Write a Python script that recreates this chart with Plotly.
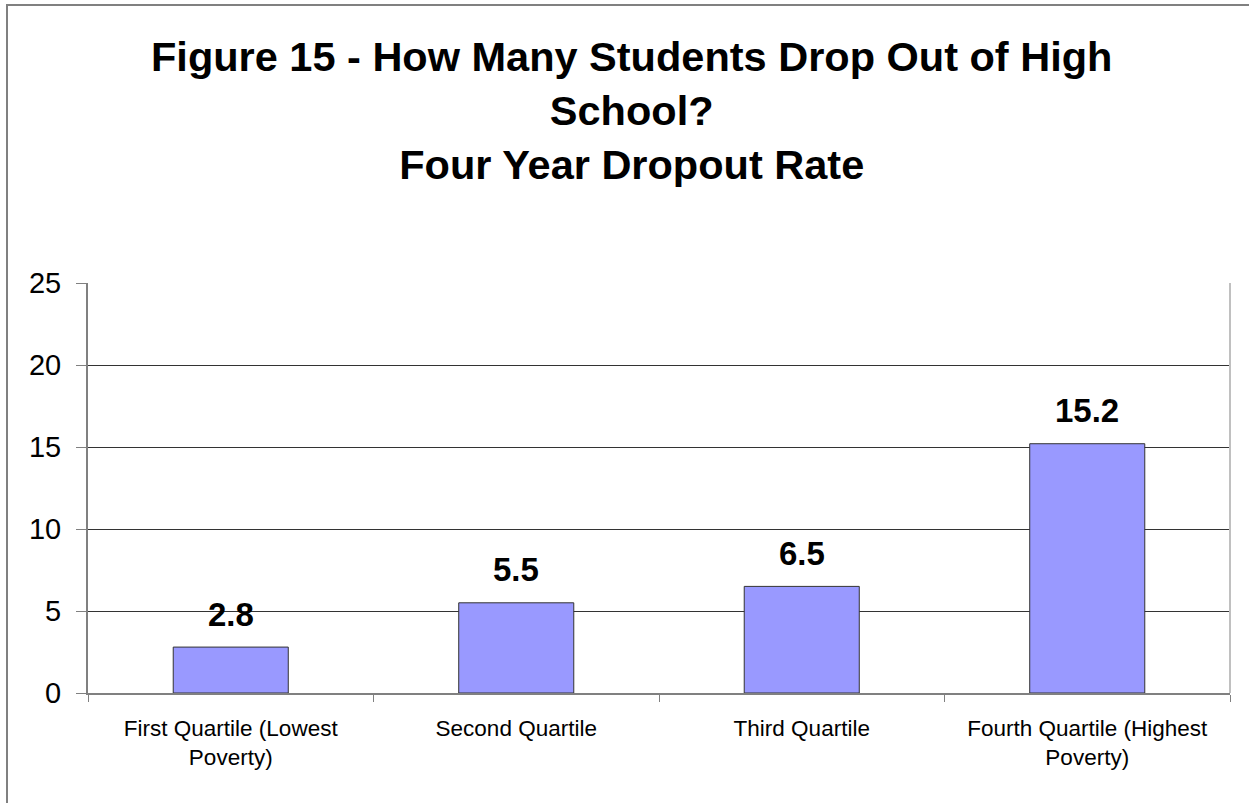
import plotly.graph_objects as go

categories = ["First Quartile (Lowest<br>Poverty)", "Second Quartile", "Third Quartile",
              "Fourth Quartile (Highest<br>Poverty)"]
dropout_rate = [2.8, 5.5, 6.5, 15.2]
y_ticks = [0, 5, 10, 15, 20, 25]
title_lines = ["Figure 15 - How Many Students Drop Out of High", "School?", "Four Year Dropout Rate"]

FONT = "Arial, Liberation Sans, sans-serif"
W, H = 1249, 803
L, R, T, B = 88, 19, 283, 110
pw, ph = W - L - R, H - T - B

fig = go.Figure()
fig.add_trace(go.Bar(
    x=categories, y=dropout_rate,
    marker=dict(color="#9999FF", line=dict(color="#333333", width=1)),
    width=0.403, hoverinfo="skip",
))

for c, v in zip(categories, dropout_rate):
    fig.add_annotation(x=c, y=v, text=f"<b>{v:.1f}</b>", showarrow=False,
                       yanchor="middle", yshift=33,
                       font=dict(family=FONT, size=33, color="black"))

# title
fig.add_annotation(xref="paper", yref="paper", x=(631 - L) / pw, y=(ph + T - 110) / ph,
                   xanchor="center", yanchor="middle", showarrow=False,
                   text="<b>" + "<br>".join(title_lines) + "</b>",
                   font=dict(family=FONT, size=41.5, color="black"))

# figure border (top/left visible)
fig.add_shape(type="rect", xref="paper", yref="paper",
              x0=(7 - L) / pw, x1=(W + 20 - L) / pw,
              y0=-(H + 20 - T - ph) / ph, y1=(ph + T - 5) / ph,
              line=dict(color="#808080", width=2), layer="below")
# plot area right edge
fig.add_shape(type="line", xref="paper", yref="paper", x0=1, x1=1, y0=0, y1=1,
              line=dict(color="#C0C0C0", width=2))

fig.update_layout(
    width=W, height=H,
    margin=dict(l=L, r=R, t=T, b=B),
    paper_bgcolor="white", plot_bgcolor="white",
    showlegend=False,
    font=dict(family=FONT, color="black"),
)
fig.update_xaxes(
    showline=True, linecolor="#808080", linewidth=2,
    ticks="outside", tickson="boundaries", ticklen=7, tickcolor="#808080", tickwidth=1,
    tickfont=dict(family=FONT, size=22.5, color="black"),
    ticklabelstandoff=14,
    showgrid=False,
)
fig.update_yaxes(
    range=[0, 25], tickvals=y_ticks,
    showline=True, linecolor="#808080", linewidth=2,
    ticks="outside", ticklen=10, tickcolor="#808080", tickwidth=1,
    tickfont=dict(family=FONT, size=29, color="black"),
    ticklabelstandoff=9,
    showgrid=True, gridcolor="#333333", gridwidth=1,
    zeroline=False,
)

fig.write_html("out.html")
